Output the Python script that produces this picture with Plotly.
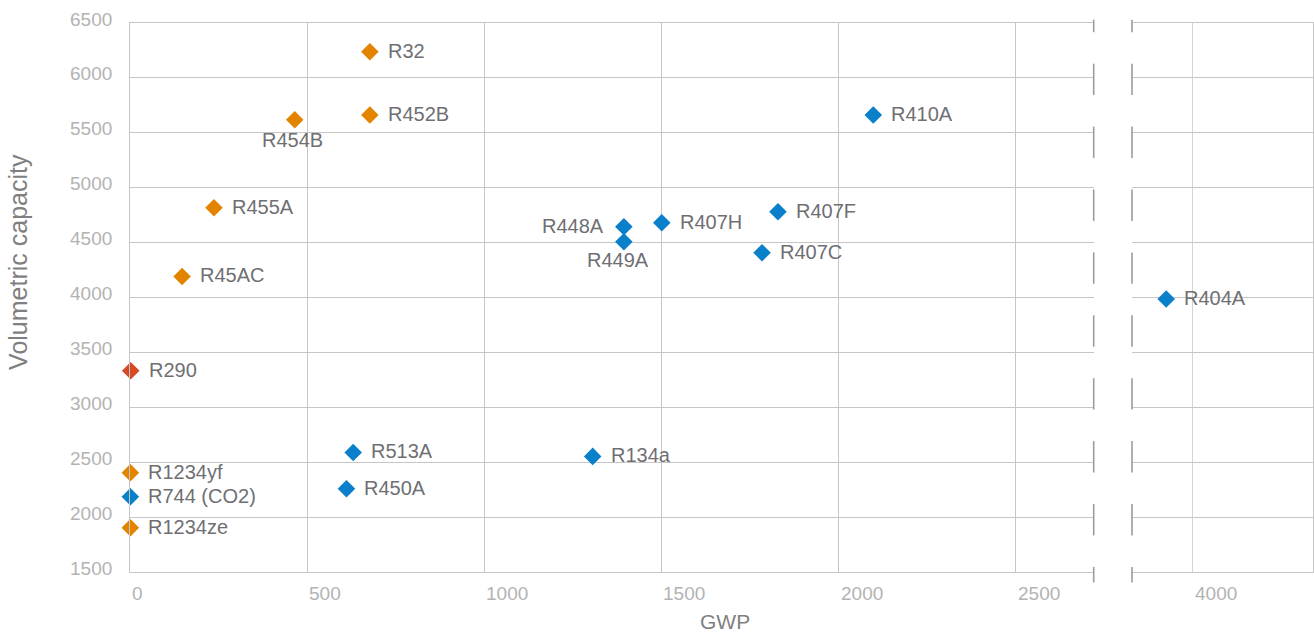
import plotly.graph_objects as go

# ---------------- data ----------------
refrigerants = ["R32", "R452B", "R454B", "R455A", "R45AC", "R290", "R1234yf", "R744 (CO2)", "R1234ze",
                "R410A", "R448A", "R449A", "R407H", "R407F", "R407C", "R404A", "R513A", "R450A", "R134a"]
gwp = [677, 677, 465, 237, 147, 2, 1, 1, 1,
       2098, 1394, 1394, 1501, 1829, 1784, 3925, 630, 611, 1306]
capacity = [6238, 5662, 5619, 4818, 4192, 3333, 2404, 2186, 1903,
            5662, 4645, 4508, 4681, 4781, 4408, 3986, 2589, 2259, 2553]
group = ["low", "low", "low", "low", "low", "natural", "low", "co2", "low",
         "hfc", "hfc", "hfc", "hfc", "hfc", "hfc", "hfc", "hfc", "hfc", "hfc"]

x_ticks_left = [0, 500, 1000, 1500, 2000, 2500]
x_ticks_right = [4000]
y_ticks = [1500, 2000, 2500, 3000, 3500, 4000, 4500, 5000, 5500, 6000, 6500]

# ---------------- style ----------------
COLORS = {"low": "#E38400", "natural": "#D64A26", "co2": "#0A7FCA", "hfc": "#0A7FCA"}
# label placement: (xanchor, xshift, yshift)
DEFAULT_LABEL = ("left", 16, 1)
LABEL_POS = {"R454B": ("center", -2.5, -20), "R448A": ("right", -18, 1), "R449A": ("center", -6, -18)}
LABEL_COLOR = "#6f6f73"
TICK_COLOR = "#b3b3b3"
TITLE_COLOR = "#7f7f7f"
GRID = "#c6c6c6"
FONT = "Liberation Sans, Arial, sans-serif"

X1_RANGE = [0, 2720.2]
X2_RANGE = [3828.6, 4338.8]
X1_DOMAIN = [0, 0.81463]
X2_DOMAIN = [0.84700, 1]

fig = go.Figure()
annotations = []

for i, name in enumerate(refrigerants):
    right = gwp[i] >= X2_RANGE[0]
    xa, ya = ("x2", "y2") if right else ("x", "y")
    fig.add_trace(go.Scatter(
        x=[gwp[i]], y=[capacity[i]],
        mode="markers",
        marker=dict(symbol="diamond", size=13.5, color=COLORS[group[i]], line=dict(width=0)),
        xaxis=xa, yaxis=ya,
        cliponaxis=False, showlegend=False, hoverinfo="skip",
    ))
    anchor, xs, ys = LABEL_POS.get(name, DEFAULT_LABEL)
    annotations.append(dict(x=gwp[i], y=capacity[i], xref=xa, yref=ya, text=name, showarrow=False,
                            xanchor=anchor, yanchor="middle", xshift=xs, yshift=ys,
                            font=dict(family=FONT, size=20, color=LABEL_COLOR)))

axis_common = dict(showgrid=True, gridcolor=GRID, gridwidth=1, zeroline=False,
                   showticklabels=False, ticks="", fixedrange=True)

fig.update_layout(
    width=1314, height=633,
    margin=dict(l=130, r=1, t=23, b=61),
    paper_bgcolor="white", plot_bgcolor="white",
    font=dict(family=FONT),
    xaxis=dict(domain=X1_DOMAIN, range=X1_RANGE, tickvals=x_ticks_left,
               showline=True, linecolor=GRID, mirror=True, anchor="y", **axis_common),
    xaxis2=dict(domain=X2_DOMAIN, range=X2_RANGE, tickvals=x_ticks_right,
                showline=True, linecolor=GRID, mirror=True, anchor="y2", **axis_common),
    yaxis=dict(range=[1500, 6500], tickvals=y_ticks, anchor="x",
               showline=True, linecolor=GRID, mirror=False, **axis_common),
    yaxis2=dict(range=[1500, 6500], tickvals=y_ticks, anchor="x2", side="right",
                showline=True, linecolor=GRID, mirror=False, **axis_common),
)
fig.update_layout(xaxis2_gridcolor="#d4d4d4")

# x tick labels (left-aligned at grid line)
for v in x_ticks_left:
    annotations.append(dict(x=v, xref="x", y=-0.0385, yref="paper", text=str(v), showarrow=False,
                            xanchor="left", yanchor="middle", font=dict(size=19, color=TICK_COLOR)))
for v in x_ticks_right:
    annotations.append(dict(x=v, xref="x2", y=-0.0385, yref="paper", text=str(v), showarrow=False,
                            xanchor="left", yanchor="middle", font=dict(size=19, color=TICK_COLOR)))
# y tick labels
for v in y_ticks:
    annotations.append(dict(x=-0.0133, xref="paper", y=v, yref="y", yshift=4, text=str(v), showarrow=False,
                            xanchor="right", yanchor="middle", font=dict(size=19, color=TICK_COLOR)))
# axis titles
annotations.append(dict(x=-0.0941, xref="paper", y=0.5643, yref="paper", text="Volumetric capacity",
                        textangle=-90, showarrow=False, xanchor="center", yanchor="middle",
                        font=dict(size=25, color=TITLE_COLOR)))
annotations.append(dict(x=0.503, xref="paper", y=-0.09, yref="paper", text="GWP", showarrow=False,
                        xanchor="center", yanchor="middle", font=dict(size=21, color=TITLE_COLOR)))
fig.update_layout(annotations=annotations)

# axis-break markers: dashed vertical lines at both panel edges
PLOT_TOP, PLOT_BOTTOM = 23.3, 572.3
H = PLOT_BOTTOM - PLOT_TOP
def py(p):
    return (PLOT_BOTTOM - p) / H

shapes = []
for xb in (X1_DOMAIN[1], X2_DOMAIN[0]):
    start = 1.1
    while start < 582.7:
        a, b = max(start, 20.0), min(start + 31.4, 582.7)
        if b > a:
            shapes.append(dict(type="line", xref="paper", yref="paper", x0=xb, x1=xb, y0=py(a), y1=py(b),
                               line=dict(color="#9c9ca0", width=1.6), layer="above"))
        start += 62.9
fig.update_layout(shapes=shapes)

fig.write_html("out.html", config={"displayModeBar": False, "staticPlot": True},
               post_script="document.body.style.margin='0';document.body.style.overflow='hidden';")
